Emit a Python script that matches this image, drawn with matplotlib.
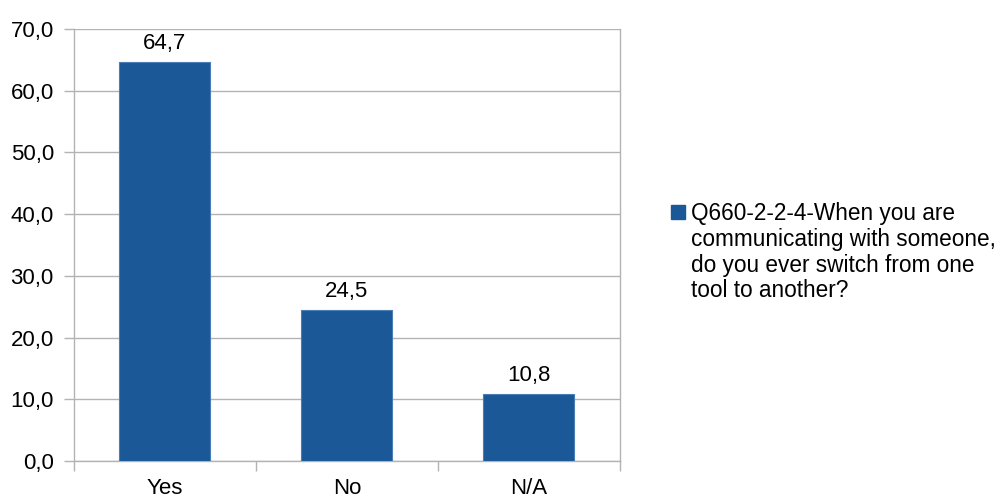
import matplotlib.pyplot as plt
import matplotlib.patches as mpatches

categorias = ['Yes', 'No', 'N/A']
valores = [64.7, 24.5, 10.8]
etiqueta_serie = ('Q660-2-2-4-When you are\ncommunicating with someone,\n'
                  'do you ever switch from one\ntool to another?')
color_barra = '#1b5897'
gris = '#b3b3b3'

plt.rcParams['font.family'] = ['Liberation Sans', 'DejaVu Sans']
fig = plt.figure(figsize=(10.04, 4.98), dpi=100)
ax = fig.add_axes([0.0737, 0.0743, 0.5438, 0.8675])

x = range(len(categorias))
ax.bar(x, valores, width=0.5, color=color_barra, edgecolor='#4a7db3', linewidth=0.8, zorder=3)
# etiquetas de valor encima de cada barra
for i, v in zip(x, valores):
    ax.text(i, v + 1.3, f'{v:.1f}'.replace('.', ','), ha='center', va='bottom', fontsize=16)

ax.set_xlim(-0.5, len(categorias) - 0.5)
ax.set_ylim(0, 70)
ax.set_yticks(range(0, 71, 10))
ax.set_yticklabels([f'{t:.1f}'.replace('.', ',') for t in range(0, 71, 10)], fontsize=16)
ax.set_xticks(list(x))
ax.set_xticklabels(categorias, fontsize=16)
ax.set_xticks([-0.5, 0.5, 1.5, 2.5], minor=True)
ax.tick_params(axis='x', which='major', length=0, pad=12)
ax.tick_params(axis='x', which='minor', length=7, color=gris, width=1)
ax.tick_params(axis='y', length=7.5, color=gris, width=1, pad=7)
ax.grid(axis='y', color=gris, linewidth=1, zorder=0)
ax.spines['top'].set_visible(False)
for s in ['left', 'right', 'bottom']:
    ax.spines[s].set_color(gris)
    ax.spines[s].set_linewidth(1)

# leyenda a la derecha
fig.patches.append(mpatches.Rectangle((0.6683, 0.5602), 0.0139, 0.0281,
                                      transform=fig.transFigure, color=color_barra))
fig.text(0.6882, 0.594, etiqueta_serie, ha='left', va='top', fontsize=16.3, linespacing=1.15)

plt.savefig('out.png')
